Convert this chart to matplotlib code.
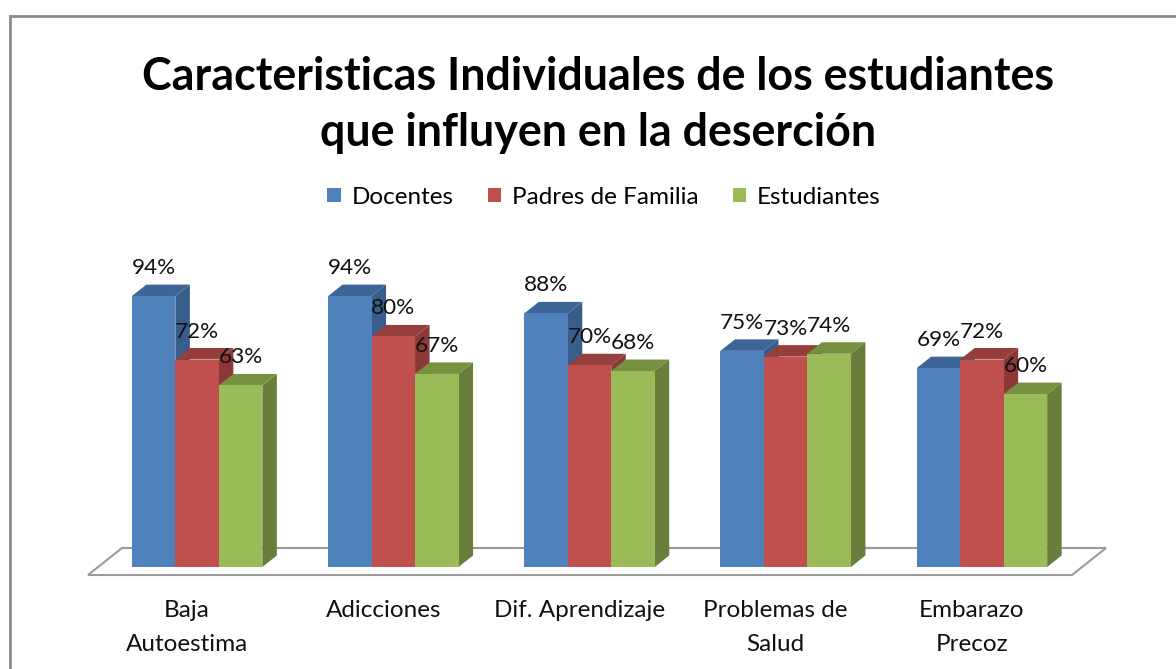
import matplotlib.pyplot as plt
from matplotlib.patches import Polygon, Rectangle

categories = ["Baja\nAutoestima", "Adicciones", "Dif. Aprendizaje",
              "Problemas de\nSalud", "Embarazo\nPrecoz"]
series = ["Docentes", "Padres de Familia", "Estudiantes"]
docentes = [94, 94, 88, 75, 69]
padres = [72, 80, 70, 73, 72]
estudiantes = [63, 67, 68, 74, 60]

front_colors = ["#4F81BD", "#C0504D", "#9BBB59"]
side_colors = ["#385D8A", "#8C3836", "#687E3A"]
top_colors = ["#3D6596", "#953E3B", "#76913F"]

plt.rcParams["font.family"] = ["Lato", "DejaVu Sans"]

W, H = 1176, 669
fig = plt.figure(figsize=(W / 100, H / 100), dpi=100)

# chart border (cropped on right/bottom like the screenshot)
fig.add_artist(Rectangle((10 / W, -0.1), 1.2, (H - 16) / H + 0.1,
                         transform=fig.transFigure, fill=False,
                         ec="#8A8A8A", lw=2))

ax = fig.add_axes([99 / W, (H - 567) / H, 981 / W, 317 / H])
ax.set_xlim(-0.5, 4.5)
ax.set_ylim(0, 110)
ax.axis("off")

px_x = 981 / 5      # pixels per category
px_y = 317 / 110    # pixels per percent
dx = 14.5 / px_x
dy = 11.5 / px_y
bw = 43.5 / px_x

# floor
fl, fr = -0.5 - 11 / px_x, 4.5 - 8 / px_x
fy = -8 / px_y
ox, oy = 34 / px_x, 27 / px_y
floor = Polygon([(fl, fy), (fr, fy), (fr + ox, fy + oy), (fl + ox, fy + oy)],
                closed=True, fc="white", ec="#9A9A9A", lw=1.5,
                clip_on=False, zorder=1)
ax.add_patch(floor)

for j, vals in enumerate([docentes, padres, estudiantes]):
    for i, v in enumerate(vals):
        x = i + (j - 1) * bw
        z = 2 + j * 3
        ax.bar(x, v, bw, color=front_colors[j], zorder=z + 2)
        r, l = x + bw / 2, x - bw / 2
        ax.add_patch(Polygon([(r, 0), (r + dx, dy), (r + dx, v + dy), (r, v)],
                             closed=True, fc=side_colors[j], lw=0,
                             zorder=z, clip_on=False))
        ax.add_patch(Polygon([(l, v), (l + dx, v + dy), (r + dx, v + dy), (r, v)],
                             closed=True, fc=top_colors[j], lw=0,
                             zorder=z + 1, clip_on=False))
        ax.text(x, v + 28 / px_y, f"{v}%", ha="center", va="center",
                fontsize=16.2, color="#111111", zorder=20, clip_on=False)

for i, c in enumerate(categories):
    ax.text(i - 10 / px_x, -33 / px_y, c, ha="center", va="top",
            fontsize=17.5, linespacing=1.75, color="#111111")

handles = [Rectangle((0, 0), 1, 1, fc=c) for c in front_colors]
fig.legend(handles, series, loc="center", bbox_to_anchor=(604 / W, 1 - 197 / H),
           ncol=3, frameon=False, fontsize=17.5, handlelength=0.55,
           handleheight=0.55, handletextpad=0.45, columnspacing=1.4)

fig.text(598 / W, 1 - 90 / H, "Caracteristicas Individuales de los estudiantes",
         ha="center", va="baseline", fontsize=32.3, fontweight="bold")
fig.text(598 / W, 1 - 146 / H, "que influyen en la deserción",
         ha="center", va="baseline", fontsize=32.3, fontweight="bold")

fig.savefig("out.png", dpi=100, facecolor="white")
